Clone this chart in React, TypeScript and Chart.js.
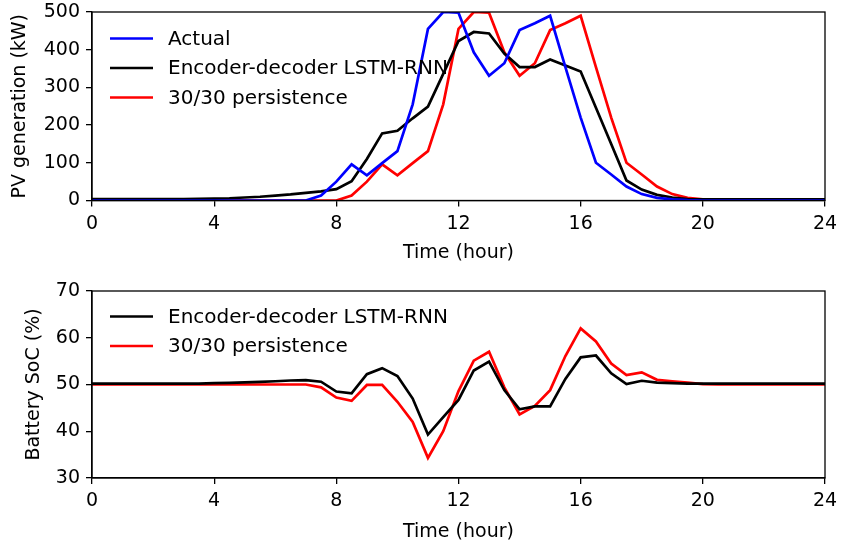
import React, { useEffect, useRef } from "react";
import { Chart, registerables } from "chart.js";

Chart.register(...registerables);

const hours = [
  0, 0.5, 1, 1.5, 2, 2.5, 3, 3.5, 4, 4.5, 5, 5.5, 6, 6.5, 7, 7.5, 8, 8.5, 9, 9.5,
  10, 10.5, 11, 11.5, 12, 12.5, 13, 13.5, 14, 14.5, 15, 15.5, 16, 16.5, 17, 17.5,
  18, 18.5, 19, 19.5, 20, 20.5, 21, 21.5, 22, 22.5, 23, 23.5, 24,
];

const pvActual = [
  0, 0, 0, 0, 0, 0, 0, 0, 0, 0, 0, 0, 0, 0, 0, 13, 50, 96, 67, 99,
  131, 255, 455, 500, 498, 393, 331, 364, 452, 470, 490, 354, 220, 100, 69, 37,
  17, 7, 3, 1, 0, 0, 0, 0, 0, 0, 0, 0, 0,
];

const pvLstm = [
  4, 4, 4, 4, 4, 4, 4, 4.5, 5, 6, 8, 10, 13, 16, 20, 24, 30, 51, 110, 178,
  185, 218, 249, 336, 423, 447, 443, 390, 354, 354, 374, 358, 342, 246, 150, 53,
  29, 15, 8, 4, 3, 3, 3, 3, 3, 3, 3, 3, 3,
];

const pvPersistence = [
  0, 0, 0, 0, 0, 0, 0, 0, 0, 0, 0, 0, 0, 0, 0, 0, 0, 13, 50, 96,
  67, 99, 131, 255, 455, 500, 498, 393, 331, 364, 452, 470, 490, 354, 220, 100,
  69, 37, 17, 7, 3, 1, 0, 0, 0, 0, 0, 0, 0,
];

const socLstm = [
  50.2, 50.2, 50.2, 50.2, 50.2, 50.2, 50.2, 50.2, 50.3, 50.35, 50.45, 50.55, 50.7, 50.85, 50.95, 50.6, 48.5, 48.1, 52.2, 53.5,
  51.8, 47.0, 39.3, 43.0, 46.7, 53.0, 54.9, 48.8, 44.7, 45.3, 45.3, 51.2, 55.8, 56.2, 52.4, 50.1,
  50.8, 50.4, 50.3, 50.2, 50.2, 50.2, 50.2, 50.2, 50.2, 50.2, 50.2, 50.2, 50.2,
];

const socPersistence = [
  50, 50, 50, 50, 50, 50, 50, 50, 50, 50, 50, 50, 50, 50, 50, 49.4, 47.2, 46.5, 49.9, 49.9,
  46.3, 42.0, 34.3, 40.0, 48.6, 55.1, 57.0, 49.4, 43.6, 45.4, 48.8, 56.1, 62.0, 59.2, 54.5, 52.0,
  52.6, 51.0, 50.7, 50.4, 50.1, 50, 50, 50, 50, 50, 50, 50, 50,
];

const xTicks = [0, 4, 8, 12, 16, 20, 24];
const pvTicks = [0, 100, 200, 300, 400, 500];
const socTicks = [30, 40, 50, 60, 70];

const FONT = "'DejaVu Sans', sans-serif";
const FS = 19;
const LEG_FS = 20;

const toPts = (ys: number[]) => ys.map((y, i) => ({ x: hours[i], y }));

const framePlugin = {
  id: "frame",
  afterDatasetsDraw(chart: any) {
    const { ctx, chartArea: a } = chart;
    ctx.save();
    ctx.strokeStyle = "#000";
    ctx.lineWidth = 1.3;
    ctx.strokeRect(a.left, a.top, a.right - a.left, a.bottom - a.top);
    ctx.restore();
  },
};

const legendPlugin = {
  id: "innerLegend",
  afterDraw(chart: any, _args: any, opts: any) {
    const { ctx } = chart;
    const items = opts.items || [];
    ctx.save();
    ctx.font = `${LEG_FS}px ${FONT}`;
    ctx.textBaseline = "middle";
    ctx.textAlign = "left";
    items.forEach((it: any, i: number) => {
      const y = opts.y0 + i * opts.dy;
      ctx.strokeStyle = it.color;
      ctx.lineWidth = 2.7;
      ctx.beginPath();
      ctx.moveTo(opts.x0, y);
      ctx.lineTo(opts.x0 + opts.len, y);
      ctx.stroke();
      ctx.fillStyle = "#000";
      ctx.fillText(it.label, opts.x0 + opts.len + opts.gap, y + 1);
    });
    ctx.restore();
  },
};

function makeConfig(
  datasets: any[],
  yMin: number,
  yMax: number,
  yTickVals: number[],
  yTitle: string,
  yTitlePad: number,
  padTop: number,
  padBottom: number,
  xHeight: number,
  legendItems: any[],
  legendY0: number
): any {
  return {
    type: "line",
    data: { datasets },
    plugins: [framePlugin, legendPlugin],
    options: {
      animation: false,
      responsive: false,
      events: [],
      layout: { padding: { left: 0, right: 16, top: padTop, bottom: padBottom } },
      plugins: {
        legend: { display: false },
        tooltip: { enabled: false },
        innerLegend: { items: legendItems, x0: 110, y0: legendY0, dy: 29.5, len: 43, gap: 15 },
      },
      elements: { point: { radius: 0 }, line: { tension: 0, borderWidth: 2.7 } },
      scales: {
        x: {
          type: "linear",
          min: 0,
          max: 24,
          afterBuildTicks: (s: any) => {
            s.ticks = xTicks.map((v) => ({ value: v }));
          },
          afterFit: (s: any) => {
            s.height = xHeight;
            s.paddingLeft = 0;
            s.paddingRight = 0;
          },
          ticks: {
            color: "#000",
            font: { family: FONT, size: FS, lineHeight: 1.2 },
            padding: 6,
            maxRotation: 0,
            autoSkip: false,
          },
          grid: { drawOnChartArea: false, drawTicks: true, tickLength: 6, color: "#000", lineWidth: 1.3 },
          border: { display: true, color: "#000", width: 1.3 },
          title: {
            display: true,
            text: "Time (hour)",
            color: "#000",
            font: { family: FONT, size: FS, lineHeight: 1 },
            padding: { top: 0, bottom: 0 },
          },
        },
        y: {
          type: "linear",
          min: yMin,
          max: yMax,
          afterBuildTicks: (s: any) => {
            s.ticks = yTickVals.map((v) => ({ value: v }));
          },
          afterFit: (s: any) => {
            s.width = 92;
            s.paddingTop = 0;
            s.paddingBottom = 0;
          },
          ticks: {
            color: "#000",
            font: { family: FONT, size: FS },
            padding: 6,
            autoSkip: false,
          },
          grid: { drawOnChartArea: false, drawTicks: true, tickLength: 6, color: "#000", lineWidth: 1.3 },
          border: { display: true, color: "#000", width: 1.3 },
          title: {
            display: true,
            text: yTitle,
            color: "#000",
            font: { family: FONT, size: FS, lineHeight: 1 },
            padding: { top: yTitlePad, bottom: 0 },
          },
        },
      },
    },
  };
}

export default function App() {
  const topRef = useRef<HTMLCanvasElement>(null);
  const botRef = useRef<HTMLCanvasElement>(null);

  useEffect(() => {
    const c1 = new Chart(
      topRef.current as HTMLCanvasElement,
      makeConfig(
        [
          { label: "Actual", data: toPts(pvActual), borderColor: "#0000ff", backgroundColor: "#0000ff" },
          { label: "Encoder-decoder LSTM-RNN", data: toPts(pvLstm), borderColor: "#000000", backgroundColor: "#000000" },
          { label: "30/30 persistence", data: toPts(pvPersistence), borderColor: "#ff0000", backgroundColor: "#ff0000" },
        ],
        0,
        500,
        pvTicks,
        "PV generation (kW)",
        11,
        12,
        7,
        62.5,
        [
          { label: "Actual", color: "#0000ff" },
          { label: "Encoder-decoder LSTM-RNN", color: "#000000" },
          { label: "30/30 persistence", color: "#ff0000" },
        ],
        38.5
      )
    );
    const c2 = new Chart(
      botRef.current as HTMLCanvasElement,
      makeConfig(
        [
          { label: "Encoder-decoder LSTM-RNN", data: toPts(socLstm), borderColor: "#000000", backgroundColor: "#000000" },
          { label: "30/30 persistence", data: toPts(socPersistence), borderColor: "#ff0000", backgroundColor: "#ff0000" },
        ],
        30,
        70,
        socTicks,
        "Battery SoC (%)",
        24.5,
        21,
        0.5,
        63.5,
        [
          { label: "Encoder-decoder LSTM-RNN", color: "#000000" },
          { label: "30/30 persistence", color: "#ff0000" },
        ],
        316.5 - 270
      )
    );
    return () => {
      c1.destroy();
      c2.destroy();
    };
  }, []);

  return (
    <div style={{ position: "fixed", left: 0, top: 0, width: 841, height: 542, background: "#fff" }}>
      <canvas ref={topRef} width={841} height={270} style={{ position: "absolute", left: 0, top: 0, width: 841, height: 270 }} />
      <canvas ref={botRef} width={841} height={272} style={{ position: "absolute", left: 0, top: 270, width: 841, height: 272 }} />
    </div>
  );
}
